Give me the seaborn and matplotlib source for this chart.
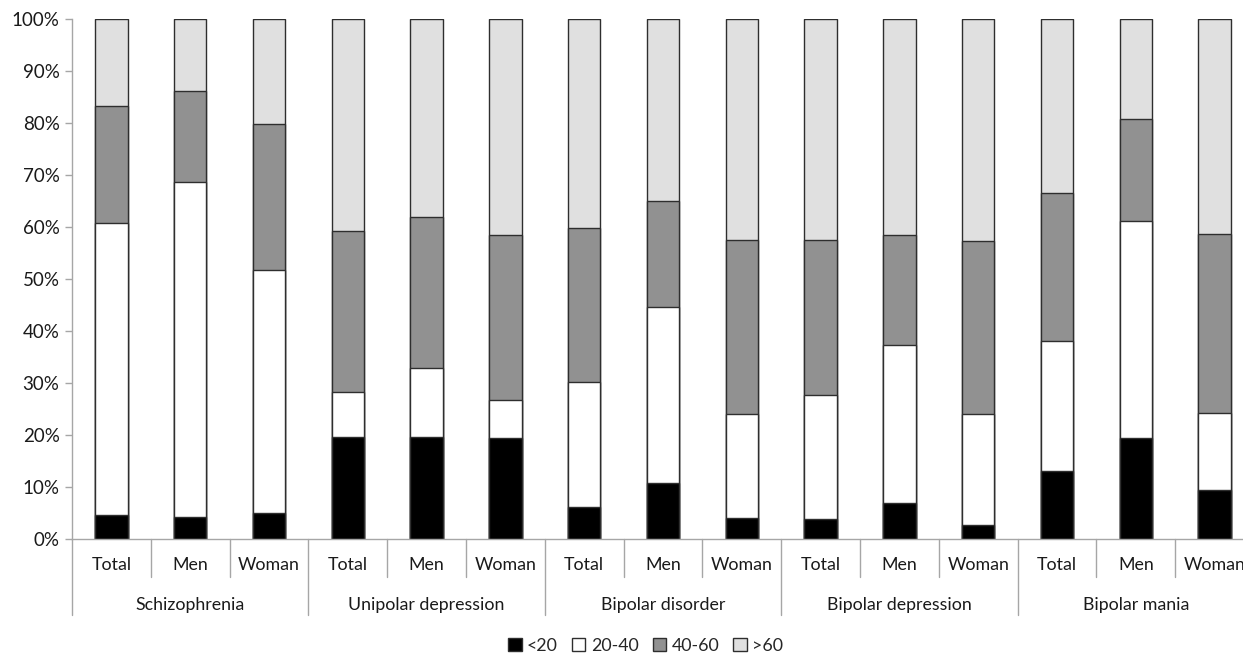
import numpy as np
import pandas as pd
import matplotlib
matplotlib.use("Agg")
import matplotlib.pyplot as plt
import matplotlib.transforms as mtransforms
from matplotlib.patches import Patch
import seaborn as sns

# ---- data ----
groups = ["Schizophrenia", "Unipolar depression", "Bipolar disorder",
          "Bipolar depression", "Bipolar mania"]
subgroups = ["Total", "Men", "Woman"]
series_names = ["<20", "20-40", "40-60", ">60"]

lt20 = [4.6, 4.3, 5.0, 19.7, 19.7, 19.5, 6.1, 10.8, 4.1, 3.9, 7.0, 2.6, 13.1, 19.5, 9.5]
b2040 = [56.1, 64.3, 46.7, 8.6, 13.2, 7.2, 24.1, 33.9, 19.9, 23.7, 30.4, 21.4, 25.0, 41.7, 14.8]
b4060 = [22.6, 17.6, 28.2, 31.0, 29.0, 31.7, 29.6, 20.3, 33.5, 29.9, 21.0, 33.3, 28.5, 19.6, 34.3]
gt60 = [16.7, 13.8, 20.1, 40.7, 38.1, 41.6, 40.2, 35.0, 42.5, 42.5, 41.6, 42.7, 33.4, 19.2, 41.4]

colors = ["#000000", "#ffffff", "#919191", "#e0e0e0"]

# ---- build table ----
bar_ids = [f"{g}|{s}" for g in groups for s in subgroups]
vals = np.array([lt20, b2040, b4060, gt60])
cum = np.cumsum(vals, axis=0)
df = pd.DataFrame({"bar": bar_ids})
for i, name in enumerate(series_names):
    df["cum_" + name] = cum[i]

sns.set_style("white")
plt.rcParams["font.family"] = ["Lato", "DejaVu Sans"]

W, H = 1243, 653
fig = plt.figure(figsize=(W / 100, H / 100), dpi=100)
ax_left, ax_right, ax_top, ax_bot = 72, 1254, 19, 539
ax = fig.add_axes([ax_left / W, (H - ax_bot) / H,
                   (ax_right - ax_left) / W, (ax_bot - ax_top) / H])

edge = "#2e2e2e"
for i in reversed(range(len(series_names))):
    sns.barplot(data=df, x="bar", y="cum_" + series_names[i], order=bar_ids,
                color=colors[i], saturation=1, width=0.41,
                edgecolor=edge, linewidth=1.0, errorbar=None, ax=ax)

ax.set_xlim(-0.5, len(bar_ids) - 0.5)
ax.set_ylim(0, 100)
ax.set_yticks(np.arange(0, 101, 10))
ax.set_yticklabels([f"{v}%" for v in range(0, 101, 10)])
ax.set_xticks([])
ax.set_xlabel("")
ax.set_ylabel("")
for s in ["top", "right"]:
    ax.spines[s].set_visible(False)
axis_gray = "#a6a6a6"
ax.spines["left"].set_color(axis_gray)
ax.spines["bottom"].set_color(axis_gray)
ax.spines["left"].set_linewidth(1.0)
ax.spines["bottom"].set_linewidth(1.0)
ax.tick_params(axis="y", left=True, length=5, width=1.0, color=axis_gray,
               labelsize=13.5, labelcolor="#1a1a1a", pad=4)

# ---- multi-level category axis ----
trans = mtransforms.blended_transform_factory(ax.transData, ax.transAxes)
n_sub = len(subgroups)
sub_len = -38 / 520
grp_len = -76 / 520
for k in range(len(bar_ids) + 1):
    x = k - 0.5
    y1 = grp_len if k % n_sub == 0 else sub_len
    ax.plot([x, x], [0, y1], transform=trans, color=axis_gray, lw=1.0,
            clip_on=False)
for k, bid in enumerate(bar_ids):
    ax.text(k, -26 / 520, bid.split("|")[1], transform=trans, ha="center",
            va="center", fontsize=12.8, color="#1a1a1a")
for g, name in enumerate(groups):
    ax.text(g * n_sub + (n_sub - 1) / 2, -66 / 520, name, transform=trans,
            ha="center", va="center", fontsize=12.8, color="#1a1a1a")

# ---- legend ----
handles = [Patch(facecolor=c, edgecolor=edge, linewidth=1.0) for c in colors]
fig.legend(handles, series_names, loc="center",
           bbox_to_anchor=((ax_left + ax_right) / 2 / W - 0.014, 1 - 646 / H),
           ncol=4, frameon=False, fontsize=12.8, handlelength=0.75,
           handleheight=0.75, handletextpad=0.3, columnspacing=0.8)

fig.savefig("out.png", dpi=100)
